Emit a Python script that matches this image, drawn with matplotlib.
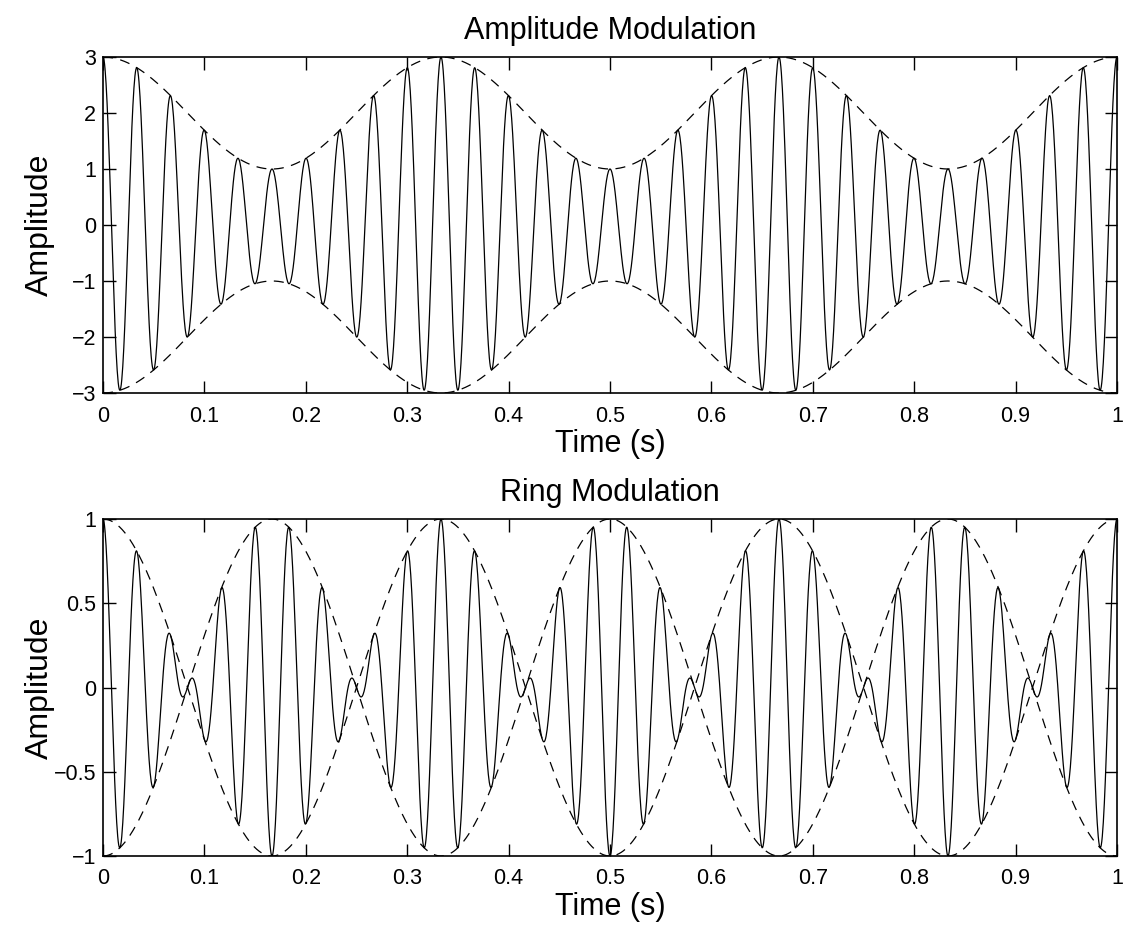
import numpy as np
import matplotlib
matplotlib.use("Agg")
import matplotlib.pyplot as plt

# Signal parameters (30 peaks per second, envelope period 1/3 s)
fs = 2000            # sampling rate (Hz)
duration = 1.0       # seconds
carrier_freq = 30    # Hz
mod_freq = 3         # Hz
am_offset = 2        # DC offset of the AM modulator

t = np.arange(0, duration + 1 / fs, 1 / fs)
carrier = np.cos(2 * np.pi * carrier_freq * t)
modulator = np.cos(2 * np.pi * mod_freq * t)

am_env = am_offset + modulator
am_sig = am_env * carrier
ring_env = modulator
ring_sig = ring_env * carrier

xticks = [0, 0.1, 0.2, 0.3, 0.4, 0.5, 0.6, 0.7, 0.8, 0.9, 1]
am_yticks = [-3, -2, -1, 0, 1, 2, 3]
ring_yticks = [-1, -0.5, 0, 0.5, 1]

plt.rcParams["font.family"] = ["Liberation Sans", "DejaVu Sans"]

fig = plt.figure(figsize=(11.24, 9.25), dpi=100)
W, H = 1124, 925
ax1 = fig.add_axes([103 / W, 1 - 393 / H, (1117 - 103) / W, (393 - 57) / H])
ax2 = fig.add_axes([103 / W, 1 - 856 / H, (1117 - 103) / W, (856 - 519) / H])


def style(ax, ylim, yticks, title):
    ax.set_xlim(0, 1)
    ax.set_ylim(*ylim)
    ax.set_xticks(xticks)
    ax.set_xticklabels([f"{v:g}" for v in xticks])
    ax.set_yticks(yticks)
    ax.set_yticklabels([f"{v:g}".replace("-", "\u2212") for v in yticks])
    ax.tick_params(direction="in", top=True, right=True, length=9, width=1, labelsize=15.5)
    ax.tick_params(axis="x", pad=9)
    ax.tick_params(axis="y", pad=5)
    for s in ax.spines.values():
        s.set_linewidth(1.2)
    ax.set_xlabel("Time (s)", fontsize=22, labelpad=2)
    ax.set_ylabel("Amplitude", fontsize=23)
    ax.yaxis.set_label_coords(-0.047, 0.5)
    ax.set_title(title, fontsize=22, pad=13)


ax1.plot(t, am_sig, color="black", lw=0.9)
ax1.plot(t, am_env, color="black", lw=0.9, ls=(0, (8, 6)))
ax1.plot(t, -am_env, color="black", lw=0.9, ls=(0, (8, 6)))
style(ax1, (-3, 3), am_yticks, "Amplitude Modulation")

ax2.plot(t, ring_sig, color="black", lw=0.9)
ax2.plot(t, ring_env, color="black", lw=0.9, ls=(0, (8, 6)))
ax2.plot(t, -ring_env, color="black", lw=0.9, ls=(0, (8, 6)))
style(ax2, (-1, 1), ring_yticks, "Ring Modulation")

fig.savefig("out.png", dpi=100, facecolor="white")
